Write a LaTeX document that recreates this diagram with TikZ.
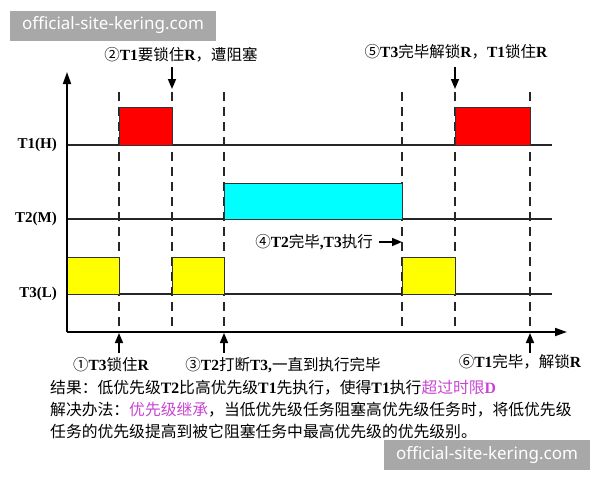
\documentclass[tikz,border=0pt]{standalone}
\usepackage{fontspec}
\setmainfont{Liberation Serif}
\newfontfamily\cjk{Noto Sans CJK SC}
\newfontfamily\wmfont{Noto Sans}
\usetikzlibrary{arrows.meta}
\definecolor{lilac}{RGB}{200,70,210}
\definecolor{wmgray}{RGB}{168,168,168}
\definecolor{hired}{RGB}{255,0,0}
\definecolor{midcyan}{RGB}{0,255,255}
\definecolor{lowyellow}{RGB}{255,255,0}
\newcommand\B[1]{{\rmfamily\bfseries #1}}
\begin{document}
\begin{tikzpicture}[x=1pt,y=-1pt,
  lbl/.style={font=\cjk\fontsize{15.5}{18}\selectfont, inner sep=0pt},
  txt/.style={font=\cjk\fontsize{15.8}{18}\selectfont, inner sep=0pt, anchor=west},
  axislbl/.style={font=\rmfamily\bfseries\fontsize{15}{18}\selectfont, inner sep=0pt, anchor=east},
  axisline/.style={line width=1.8pt, -{Triangle[length=12pt,width=8pt]}},
  tline/.style={line width=1.4pt, draw=black!85},
  dashline/.style={line width=1.4pt, dash pattern=on 9pt off 6pt, draw=black!85},
  box/.style={draw=black!80, line width=1pt},
  pointer/.style={line width=1.6pt, -{Triangle[length=10pt,width=8pt]}},
  wm/.style={fill=wmgray, text=white, font=\wmfont\fontsize{17}{20}\selectfont, minimum width=206pt, minimum height=30pt, inner sep=0pt}
]
\useasboundingbox (0,0) rectangle (600,480);
\fill[white] (0,0) rectangle (600,480);

% dashed time markers
\foreach \t in {119,172,224,402,455,530}{
  \draw[dashline] (\t,92) -- (\t,332);
}

% task timelines
\draw[tline] (67,145) -- (552,145);
\draw[tline] (67,219) -- (552,219);
\draw[tline] (67,294) -- (552,294);

% execution boxes
\filldraw[box, fill=hired] (119,107) rectangle (172,145);
\filldraw[box, fill=hired] (455,107) rectangle (530,145);
\filldraw[box, fill=midcyan] (224,183) rectangle (402,219);
\filldraw[box, fill=lowyellow] (67,257) rectangle (119,294);
\filldraw[box, fill=lowyellow] (172,257) rectangle (224,294);
\filldraw[box, fill=lowyellow] (402,257) rectangle (455,294);

% axes
\coordinate (O) at (67,332);
\coordinate (ytop) at (67,72);
\coordinate (xend) at (567,332);
\draw[axisline] (O) -- (ytop);
\draw[axisline] (O) -- (xend);

% axis labels
\node[axislbl] (t1) at (57,145) {T1(H)};
\node[axislbl] (t2) at (57,219) {T2(M)};
\node[axislbl] (t3) at (57,294) {T3(L)};

% event labels
\node[lbl] (l2) at (181,55) {②\B{T1}要锁住\B{R}，遭阻塞};
\node[lbl] (l5) at (456,52) {⑤\B{T3}完毕解锁\B{R}，\B{T1}锁住\B{R}};
\node[lbl] (l1) at (111,365) {①\B{T3}锁住\B{R}};
\node[lbl] (l3) at (283,365) {③\B{T2}打断\B{T3,}一直到执行完毕};
\node[lbl] (l6) at (520,362) {⑥\B{T1}完毕，解锁\B{R}};
\node[lbl, anchor=east] (l4) at (373,242) {④\B{T2}完毕\B{,T3}执行};

% pointer arrows
\coordinate (a2s) at (172,67);  \coordinate (a2e) at (172,89);
\coordinate (a5s) at (455,67);  \coordinate (a5e) at (455,89);
\coordinate (a1s) at (119,353); \coordinate (a1e) at (119,333);
\coordinate (a3s) at (224,353); \coordinate (a3e) at (224,333);
\coordinate (a6s) at (530,353); \coordinate (a6e) at (530,333);
\coordinate (a4s) at (379,242); \coordinate (a4e) at (402,242);
\draw[pointer] (a2s) -- (a2e);
\draw[pointer] (a5s) -- (a5e);
\draw[pointer] (a1s) -- (a1e);
\draw[pointer] (a3s) -- (a3e);
\draw[pointer] (a6s) -- (a6e);
\draw[pointer] (a4s) -- (a4e);

% explanation
\node[txt] (r1) at (50,388) {结果：低优先级\B{T2}比高优先级\B{T1}先执行，使得\B{T1}执行{\color{lilac}超过时限\B{D}}};
\node[txt] (r2) at (50,409.5) {解决办法：{\color{lilac}优先级继承}，当低优先级任务阻塞高优先级任务时，将低优先级};
\node[txt] (r3) at (50,431) {任务的优先级提高到被它阻塞任务中最高优先级的优先级别。};

% watermarks
\node[wm] (wm1) at (113,25.5) {official-site-kering.com};
\node[wm] (wm2) at (487,455) {official-site-kering.com};
\end{tikzpicture}
\end{document}
